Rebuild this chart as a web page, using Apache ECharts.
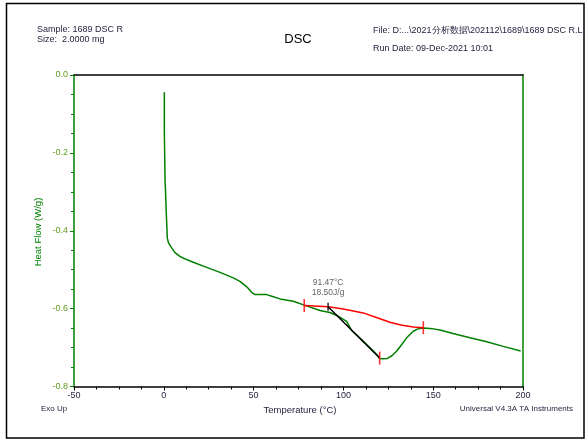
<!DOCTYPE html>
<html>
<head>
<meta charset="utf-8">
<script src="https://cdn.jsdelivr.net/npm/echarts@6/dist/echarts.min.js"></script>
<style>
html,body{margin:0;padding:0;background:#fff;}
#chart{width:588px;height:442px;}
</style>
</head>
<body>
<div id="chart"></div>
<script>
// ---- data ----
const xTicks = { min: -50, max: 200, interval: 50 };
const yTicks = { min: -0.8, max: 0, interval: 0.2 };

// heat flow curve: [temperature °C, heat flow W/g]
const heatFlow = [
  [0.3, -0.044], [0.3, -0.144], [0.7, -0.144], [0.7, -0.275], [0.9, -0.272], [0.9, -0.29],
  [1.4, -0.29], [1.4, -0.357], [1.95, -0.36], [1.95, -0.419], [2.7, -0.422], [2.7, -0.432],
  [3.45, -0.436], [4.4, -0.444], [6.2, -0.456], [9.0, -0.466], [12.7, -0.474],
  [16.4, -0.481], [23.9, -0.494], [31.3, -0.507], [38.7, -0.521], [42.4, -0.530],
  [46.2, -0.544], [48.9, -0.558], [50.8, -0.564], [57.3, -0.564], [60.1, -0.568],
  [64.7, -0.575], [72.1, -0.581], [78.2, -0.591], [87.0, -0.605], [92.5, -0.610],
  [97.0, -0.619], [101.8, -0.633], [104.6, -0.656], [110.0, -0.679], [115.0, -0.701],
  [118.5, -0.717], [120.2, -0.728], [122.0, -0.729], [124.5, -0.728], [127.0, -0.721],
  [129.7, -0.709], [132.5, -0.692], [135.2, -0.675], [138.9, -0.658], [141.5, -0.652],
  [144.5, -0.650], [150.0, -0.652], [153.8, -0.655], [161.0, -0.664], [170.5, -0.675],
  [179.8, -0.685], [189.0, -0.697], [198.7, -0.709]
];

// integration baseline (red)
const baseline = [
  [78.2, -0.592], [91.5, -0.595], [100.0, -0.601], [111.0, -0.611], [118.0, -0.622],
  [125.9, -0.635], [132.0, -0.642], [138.9, -0.647], [144.5, -0.649]
];

// black tangent line from onset to peak
const onsetPoint = [91.47, -0.595];
const peakPoint = [120.19, -0.727];
const enthalpy = '18.50J/g';

// integration limit and peak markers
const redMarks = [[78.2, -0.592], [144.5, -0.649], [120.19, -0.727]];

const headerLeft = ['Sample: 1689 DSC R', 'Size:  2.0000 mg'];
const headerRight = ['File: D:...\\2021分析数据\\202112\\1689\\1689 DSC R.L', 'Run Date: 09-Dec-2021 10:01'];
const chartTitle = 'DSC';
const xName = 'Temperature (°C)';
const yName = 'Heat Flow (W/g)';
const footLeft = 'Exo Up';
const footRight = 'Universal V4.3A TA Instruments';

// ---- chart ----
const FONT = 'Arial, "Liberation Sans", sans-serif';
const GREEN = '#008000';
const TXT = '#1e1e3c';
const chart = echarts.init(document.getElementById('chart'), null, { renderer: 'canvas' });

chart.setOption({
  animation: false,
  backgroundColor: '#fff',
  textStyle: { fontFamily: FONT },
  grid: { left: 74, top: 75, width: 449, height: 311.5, containLabel: false },
  xAxis: [
    {
      type: 'value', position: 'bottom', min: xTicks.min, max: xTicks.max, interval: xTicks.interval,
      axisLine: { onZero: false, lineStyle: { color: '#000', width: 1.5 } },
      axisTick: { show: true, length: 4, lineStyle: { color: '#000' } },
      minorTick: { show: true, splitNumber: 4, length: 3, lineStyle: { color: '#000' } },
      axisLabel: { color: TXT, fontSize: 9, margin: 5, fontFamily: FONT },
      splitLine: { show: false }
    },
    {
      type: 'value', position: 'top', min: xTicks.min, max: xTicks.max,
      axisLine: { onZero: false, lineStyle: { color: '#000', width: 1.5 } },
      axisTick: { show: false }, axisLabel: { show: false }, splitLine: { show: false }
    }
  ],
  yAxis: [
    {
      type: 'value', position: 'left', min: yTicks.min, max: yTicks.max, interval: yTicks.interval,
      axisLine: { onZero: false, lineStyle: { color: GREEN, width: 1.5 } },
      axisTick: { show: true, length: 4, lineStyle: { color: GREEN } },
      minorTick: { show: true, splitNumber: 4, length: 3, lineStyle: { color: GREEN } },
      axisLabel: { color: '#5f9a1e', fontSize: 9, margin: 6, fontFamily: FONT,
        formatter: v => v.toFixed(1) },
      splitLine: { show: false }
    },
    {
      type: 'value', position: 'right', min: yTicks.min, max: yTicks.max,
      axisLine: { onZero: false, lineStyle: { color: GREEN, width: 1.5 } },
      axisTick: { show: false }, axisLabel: { show: false }, splitLine: { show: false }
    }
  ],
  series: [
    {
      type: 'line', data: heatFlow, showSymbol: false, symbol: 'none',
      lineStyle: { color: GREEN, width: 1.5 }, z: 2
    },
    {
      type: 'line', data: baseline, showSymbol: false, symbol: 'none',
      lineStyle: { color: '#ff0000', width: 1.5 }, z: 3
    },
    {
      type: 'line', data: [onsetPoint, peakPoint], showSymbol: false, symbol: 'none',
      lineStyle: { color: '#000', width: 1.5 }, z: 4
    },
    {
      type: 'scatter', data: redMarks, symbol: 'rect', symbolSize: [1.6, 13],
      itemStyle: { color: '#ff0000' }, z: 5, silent: true
    },
    {
      type: 'scatter', data: [onsetPoint], symbol: 'rect', symbolSize: [1.6, 8],
      itemStyle: { color: '#000' }, z: 6, silent: true,
      label: {
        show: true, position: 'top', distance: 5, color: '#3a3a3a', fontSize: 8.5,
        lineHeight: 10, fontFamily: FONT,
        formatter: () => onsetPoint[0].toFixed(2) + '°C\n' + enthalpy
      }
    },
    {
      type: 'scatter', data: [peakPoint], symbol: 'none', symbolSize: 1, z: 6, silent: true,
      label: {
        show: true, position: 'bottom', distance: 6, color: '#3a3a3a', fontSize: 8.5,
        fontFamily: FONT,
        formatter: () => peakPoint[0].toFixed(2) + '°C'
      }
    }
  ],
  graphic: [
    { type: 'rect', shape: { x: 6.5, y: 3.5, width: 577.5, height: 434.5 },
      style: { fill: 'none', stroke: '#000', lineWidth: 1.5 }, silent: true },
    { type: 'text', x: 37, y: 30, style: { text: headerLeft[0], font: '9px ' + FONT, fill: TXT, verticalAlign: 'middle' } },
    { type: 'text', x: 37, y: 40, style: { text: headerLeft[1], font: '9px ' + FONT, fill: TXT, verticalAlign: 'middle' } },
    { type: 'text', x: 298, y: 39, style: { text: chartTitle, font: '13px ' + FONT, fill: '#000', align: 'center', verticalAlign: 'middle' } },
    { type: 'text', x: 373, y: 31, style: { text: headerRight[0], font: '9px ' + FONT, fill: TXT, verticalAlign: 'middle' } },
    { type: 'text', x: 373, y: 49, style: { text: headerRight[1], font: '9px ' + FONT, fill: TXT, verticalAlign: 'middle' } },
    { type: 'text', x: 300, y: 410, style: { text: xName, font: '9.5px ' + FONT, fill: TXT, align: 'center', verticalAlign: 'middle' } },
    { type: 'text', x: 38, y: 232, rotation: Math.PI / 2,
      style: { text: yName, font: '9.5px ' + FONT, fill: GREEN, align: 'center', verticalAlign: 'middle' } },
    { type: 'text', x: 41, y: 409, style: { text: footLeft, font: '8px ' + FONT, fill: TXT, verticalAlign: 'middle' } },
    { type: 'text', x: 573, y: 409, style: { text: footRight, font: '8px ' + FONT, fill: TXT, align: 'right', verticalAlign: 'middle' } }
  ]
});
</script>
</body>
</html>
